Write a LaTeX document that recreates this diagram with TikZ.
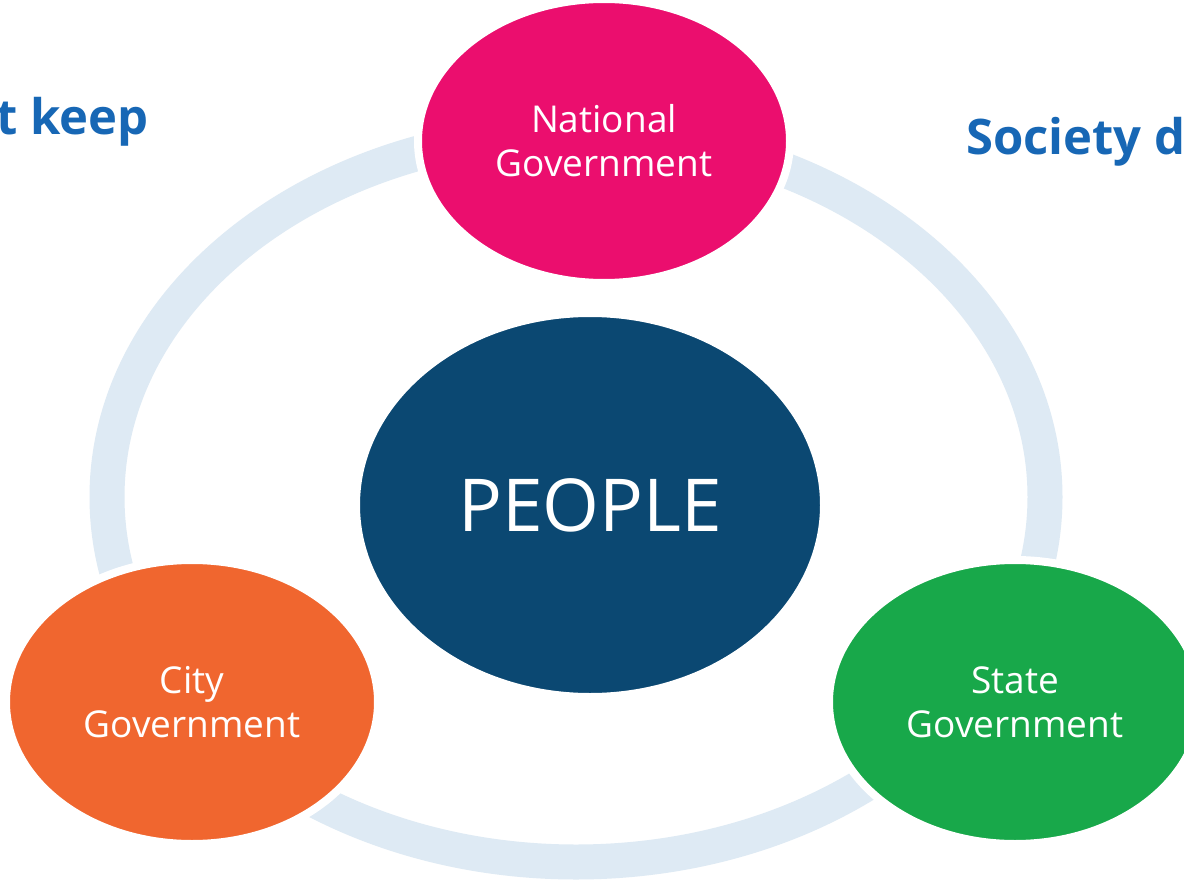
\documentclass[tikz,border=0pt]{standalone}
\usepackage{fontspec}
\setmainfont{Open Sans}
\usetikzlibrary{shapes.geometric}
\definecolor{ringcol}{HTML}{DEEAF4}
\definecolor{pinkc}{HTML}{EB0E6E}
\definecolor{navyc}{HTML}{0B4872}
\definecolor{orangec}{HTML}{F0662F}
\definecolor{greenc}{HTML}{18A84A}
\definecolor{titlec}{HTML}{1767B5}
\tikzset{
  gov/.style={ellipse, draw=white, line width=8pt, inner sep=0pt,
    minimum width=372pt, minimum height=284pt, text=white, align=center,
    font=\fontsize{37}{44}\selectfont},
  people/.style={ellipse, draw=white, line width=8pt, inner sep=0pt,
    minimum width=468pt, minimum height=384pt, text=white, fill=navyc,
    font=\fontsize{73}{80}\selectfont},
  titletext/.style={text=titlec, inner sep=0pt, font=\fontsize{49}{56}\selectfont\bfseries}
}
\begin{document}
\begin{tikzpicture}[x=1pt,y=-1pt]
\useasboundingbox (0,0) rectangle (1184,880);
\clip (0,0) rectangle (1184,880);
\fill[white] (0,0) rectangle (1184,880);
\draw[ringcol, line width=35pt] (576,497) ellipse [x radius=469pt, y radius=365pt];
\node[titletext, anchor=base east] (t1) at (149,135) {t keep};
\node[titletext, anchor=base west] (t2) at (966,155) {Society d};
\node[people] (people) at (590,505) {PEOPLE};
\node[gov, fill=pinkc] (nat) at (604,141) {National\\Government};
\node[gov, fill=orangec] (city) at (192,702) {City\\Government};
\node[gov, fill=greenc] (state) at (1015,702) {State\\Government};
\end{tikzpicture}
\end{document}
